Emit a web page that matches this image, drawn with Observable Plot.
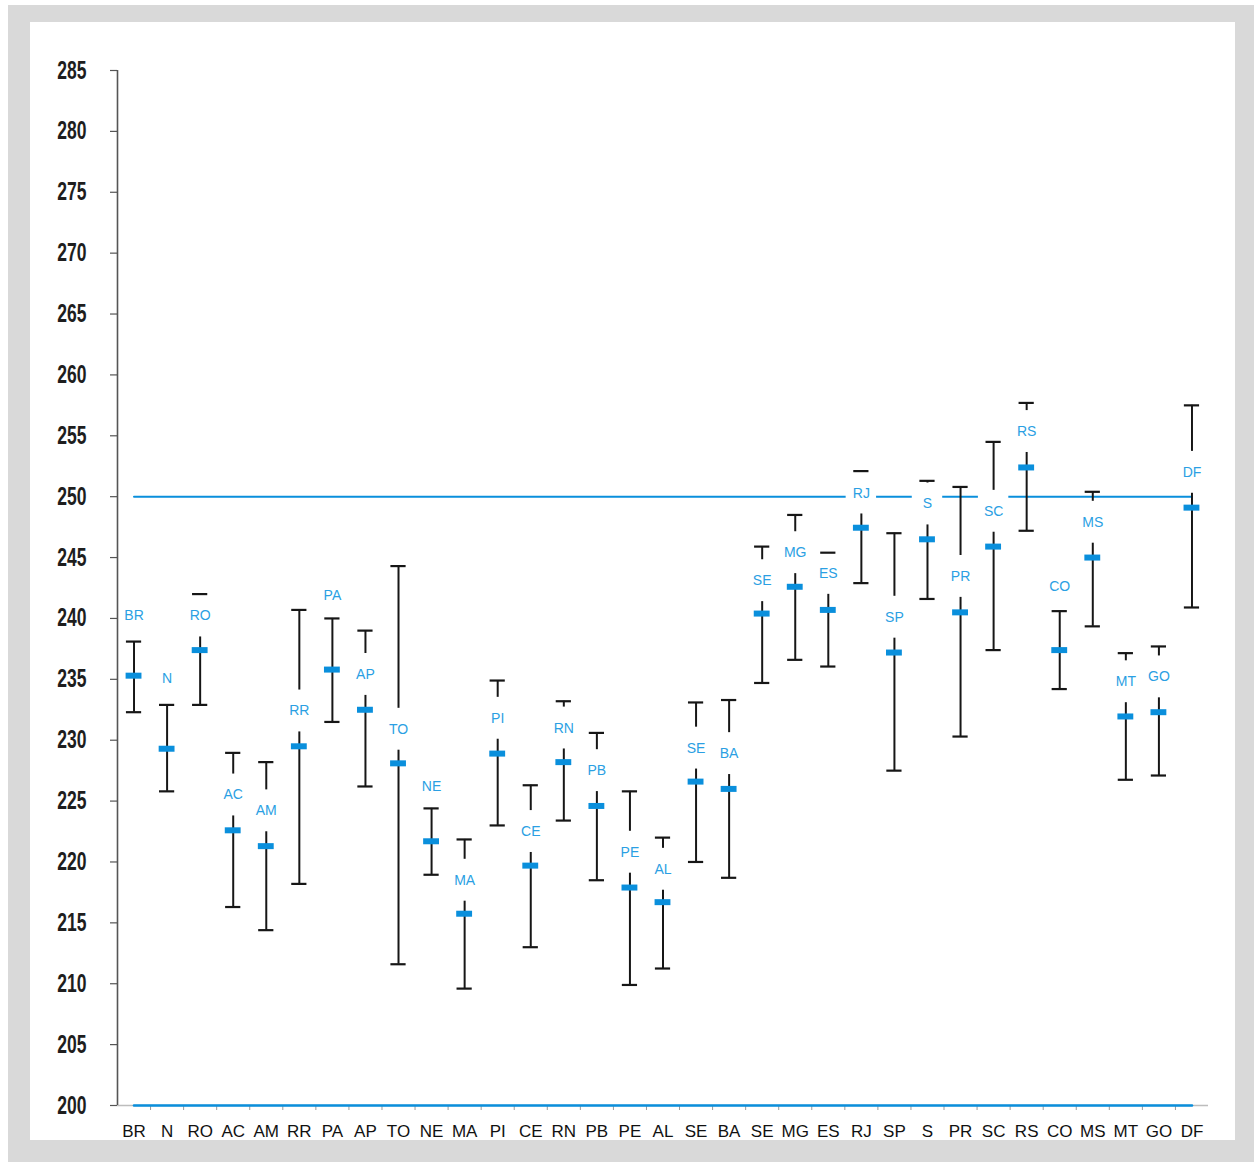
<!DOCTYPE html>
<html>
<head>
<meta charset="utf-8">
<script src="https://cdn.jsdelivr.net/npm/d3@7"></script>
<script src="https://cdn.jsdelivr.net/npm/@observablehq/plot@0.6"></script>
<style>
  html, body { margin: 0; padding: 0; background: #ffffff; }
  #page { position: relative; width: 1254px; height: 1162px; overflow: hidden; }
  #frame { position: absolute; left: 8px; top: 5px; width: 1246px; height: 1157px; background: #d9d9d9; }
  #panel { position: absolute; left: 30px; top: 22px; width: 1205px; height: 1118px; background: #ffffff; }
  #chart { position: absolute; left: 0; top: 0; }
</style>
</head>
<body>
<div id="page">
  <div id="frame"></div>
  <div id="panel"></div>
  <div id="chart"></div>
</div>
<script>
// ---- data ----
const names = ["BR","N","RO","AC","AM","RR","PA","AP","TO","NE","MA","PI","CE","RN","PB","PE","AL","SE","BA","SE","MG","ES","RJ","SP","S","PR","SC","RS","CO","MS","MT","GO","DF"];
const means = [235.3, 229.3, 237.4, 222.6, 221.3, 229.5, 235.8, 232.5, 228.1, 221.7, 215.75, 228.9, 219.7, 228.2, 224.6, 217.9, 216.7, 226.6, 226.0, 240.4, 242.6, 240.7, 247.45, 237.2, 246.5, 240.5, 245.9, 252.4, 237.4, 245.0, 231.95, 232.3, 249.1];
const lowers = [232.3, 225.8, 232.9, 216.3, 214.4, 218.2, 231.5, 226.2, 211.6, 218.95, 209.6, 223.0, 213.0, 223.4, 218.5, 209.9, 211.25, 220.0, 218.7, 234.7, 236.6, 236.05, 242.9, 227.5, 241.6, 230.3, 237.4, 247.2, 234.2, 239.35, 226.75, 227.1, 240.9];
const uppers = [238.1, 232.9, 242.0, 228.96, 228.2, 240.7, 240.0, 239.0, 244.3, 224.4, 221.85, 234.9, 226.3, 233.2, 230.6, 225.8, 222.0, 233.1, 233.3, 245.9, 248.5, 245.4, 252.1, 247.0, 251.3, 250.8, 254.5, 257.7, 240.6, 250.4, 237.15, 237.7, 257.5];
const labelAt = [240.2, 235.1, 240.2, 225.5, 224.2, 232.4, 241.9, 235.4, 230.9, 226.2, 218.5, 231.8, 222.5, 231.0, 227.5, 220.8, 219.4, 229.35, 228.9, 243.1, 245.4, 243.7, 250.3, 240.1, 249.4, 243.45, 248.8, 255.35, 242.6, 247.9, 234.8, 235.2, 252.0];
const referenceLevel = 250;
const baseLevel = 200;
const yTicks = [200, 205, 210, 215, 220, 225, 230, 235, 240, 245, 250, 255, 260, 265, 270, 275, 280, 285];

// ---- table built from the arrays ----
const data = names.map((name, i) => ({
  i, name, mean: means[i], lower: lowers[i], upper: uppers[i], labelY: labelAt[i]
}));
const idx = data.map(d => d.i);
const boundaries = d3.range(0, names.length - 1).map(k => k + 0.5);
const refLine = idx.map(i => ({i, v: referenceLevel}));
const baseLine = idx.map(i => ({i, v: baseLevel}));

const BLUE = "#0a8fdc";
const LABEL_BLUE = "#2b9fe3";
const capHalf = 0.23;
const boxHalfW = 0.46;
const boxHalfH = 1.72;

const chart = Plot.plot({
  width: 1254,
  height: 1162,
  marginLeft: 117,
  marginRight: 46,
  marginTop: 70,
  marginBottom: 57,
  style: {background: "transparent", overflow: "visible"},
  x: {domain: [-0.5, names.length - 0.5], label: null},
  y: {domain: [yTicks[0], yTicks[yTicks.length - 1]], label: null},
  marks: [
    // x axis base line (gray) and its boundary ticks
    Plot.ruleY([baseLevel], {stroke: "#bdbdbd", strokeWidth: 1.5}),
    Plot.axisX(boundaries, {tickSize: 5, tickFormat: () => "", label: null, stroke: "#9a9a9a", strokeWidth: 1}),
    // category labels
    Plot.axisX(idx, {
      tickSize: 0, tickPadding: 19, tickFormat: i => names[i], label: null,
      fontSize: 17, fontFamily: "Liberation Sans, Arial, sans-serif", fill: "#111"
    }),
    // y axis ticks and labels
    Plot.axisY(yTicks, {
      tickSize: 7, tickPadding: 24, stroke: "#555", strokeWidth: 1.2, label: null,
      fontSize: 25, fontFamily: "Liberation Sans, Arial, sans-serif",
      fontWeight: "bold", fill: "#1e1e1e"
    }),
    // blue series lines at 200 and 250
    Plot.line(baseLine, {x: "i", y: "v", stroke: BLUE, strokeWidth: 2.6}),
    Plot.line(refLine, {x: "i", y: "v", stroke: BLUE, strokeWidth: 2}),
    // error bar stems
    Plot.ruleX(data, {x: "i", y1: "lower", y2: "upper", stroke: "#161616", strokeWidth: 2}),
    // white boxes behind labels
    Plot.rect(data, {
      x1: d => d.i - boxHalfW, x2: d => d.i + boxHalfW,
      y1: d => d.labelY - boxHalfH, y2: d => d.labelY + boxHalfH,
      fill: "#ffffff"
    }),
    // caps
    Plot.ruleY(data, {y: "upper", x1: d => d.i - capHalf, x2: d => d.i + capHalf, stroke: "#161616", strokeWidth: 2.2}),
    Plot.ruleY(data, {y: "lower", x1: d => d.i - capHalf, x2: d => d.i + capHalf, stroke: "#161616", strokeWidth: 2.2}),
    // y axis line (drawn above the label boxes)
    Plot.ruleX([-0.5], {y1: baseLevel, y2: yTicks[yTicks.length - 1], stroke: "#555", strokeWidth: 1.6}),
    // mean markers
    Plot.ruleY(data, {y: "mean", x1: d => d.i - 0.24, x2: d => d.i + 0.24, stroke: BLUE, strokeWidth: 6}),
    // labels
    Plot.text(data, {
      x: "i", y: "labelY", text: "name", fill: LABEL_BLUE,
      fontSize: 14, fontFamily: "Liberation Sans, Arial, sans-serif"
    })
  ]
});
document.getElementById("chart").appendChild(chart);

// condensed look of the y tick labels
d3.select(chart).selectAll('g[aria-label="y-axis tick label"] text').each(function () {
  const w = this.getComputedTextLength();
  this.setAttribute("textLength", (w * 0.7).toFixed(1));
  this.setAttribute("lengthAdjust", "spacingAndGlyphs");
});
</script>
</body>
</html>
